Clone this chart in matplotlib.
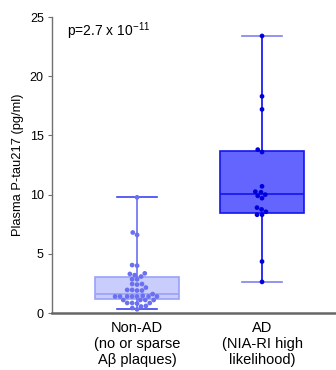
import matplotlib
matplotlib.use('Agg')
from matplotlib import pyplot as plt
import pandas as pd
import seaborn as sns

# Grupos e valores
groups = ['Non-AD\n(no or sparse\nAβ plaques)', 'AD\n(NIA-RI high\nlikelihood)']

non_ad = [9.77, 6.8, 6.6, 4.05, 4.0, 3.35, 3.3, 3.2, 3.08, 2.85, 2.85, 2.45,
          2.45, 2.4, 2.15, 1.95, 1.95, 1.9, 1.9, 1.6, 1.45, 1.4, 1.4, 1.4,
          1.4, 1.4, 1.4, 1.4, 1.1, 1.1, 1.1, 1.1, 0.85, 0.85, 0.85, 0.8,
          0.6, 0.55, 0.42, 0.31]
ad = [23.4, 18.3, 17.2, 13.8, 13.6, 10.7, 10.25, 10.2, 10.0, 9.9, 9.7,
      8.9, 8.75, 8.55, 8.3, 8.3, 4.35, 2.63]

# Estatisticas das caixas (min, q1, mediana, q3, max)
box_lo = [0.31, 2.63]
box_q1 = [1.19, 8.45]
box_med = [1.58, 10.08]
box_q3 = [3.08, 13.67]
box_hi = [9.77, 23.4]

p_text = 'p=2.7 x 10$^{-11}$'

plt.rcParams['font.family'] = ['Liberation Sans', 'DejaVu Sans']
plt.rcParams['mathtext.fontset'] = 'custom'
plt.rcParams['mathtext.rm'] = 'Liberation Sans'
plt.rcParams['mathtext.default'] = 'regular'

fill_cols = ['#c9cdfb', '#6464ff']
edge_cols = ['#9aa1f8', '#1414f0']
line_cols = ['#6a70f4', '#0a0af0']
cap_cols = ['#3c44f0', '#8080f0']
pt_cols = ['#6a70f0', '#0000dd']

fig = plt.figure(figsize=(3.36, 3.70), dpi=100)
ax = fig.add_axes([0.155, 0.154, 0.845, 0.8])

stats = []
for i in range(2):
    stats.append({'whislo': box_lo[i], 'q1': box_q1[i], 'med': box_med[i],
                  'q3': box_q3[i], 'whishi': box_hi[i]})
bp = ax.bxp(stats, positions=[0, 1], widths=0.67, capwidths=0.32,
            patch_artist=True, showfliers=False)
for i in range(2):
    bp['boxes'][i].set_facecolor(fill_cols[i])
    bp['boxes'][i].set_edgecolor(edge_cols[i])
    bp['boxes'][i].set_linewidth(1.2)
    bp['medians'][i].set_color(edge_cols[i])
    bp['medians'][i].set_linewidth(1.2)
    for w in bp['whiskers'][2*i:2*i+2]:
        w.set_color(line_cols[i])
        w.set_linewidth(1.2)
    for c in bp['caps'][2*i:2*i+2]:
        c.set_color(cap_cols[i])
        c.set_linewidth(1.2)

df = pd.DataFrame({'grp': [groups[0]]*len(non_ad) + [groups[1]]*len(ad),
                   'val': non_ad + ad})
sns.swarmplot(data=df, x='grp', y='val', hue='grp', order=groups,
              palette=pt_cols, size=3.4, ax=ax, legend=False, zorder=3)

ax.set_xlim(-0.68, 1.592)
ax.set_ylim(0, 25)
ax.set_yticks([0, 5, 10, 15, 20, 25])
ax.set_xticks([0, 1])
ax.set_xticklabels(groups, fontsize=10.5, linespacing=1.15)
ax.set_xlabel('')
ax.set_ylabel('Plasma P-tau217 (pg/ml)', fontsize=9.3, labelpad=4)
ax.tick_params(axis='y', labelsize=9, length=3, color='#707070', pad=3)
ax.tick_params(axis='x', length=0, pad=6)
for s in ['top', 'right']:
    ax.spines[s].set_visible(False)
ax.spines['left'].set_color('#707070')
ax.spines['left'].set_linewidth(1.0)
ax.spines['bottom'].set_color('#666666')
ax.spines['bottom'].set_linewidth(1.8)

# texto do p-valor no canto superior esquerdo
ax.text(0.053, 0.952, p_text, fontsize=10, va='center', ha='left',
        transform=ax.transAxes)

plt.savefig('out.png', dpi=100)
